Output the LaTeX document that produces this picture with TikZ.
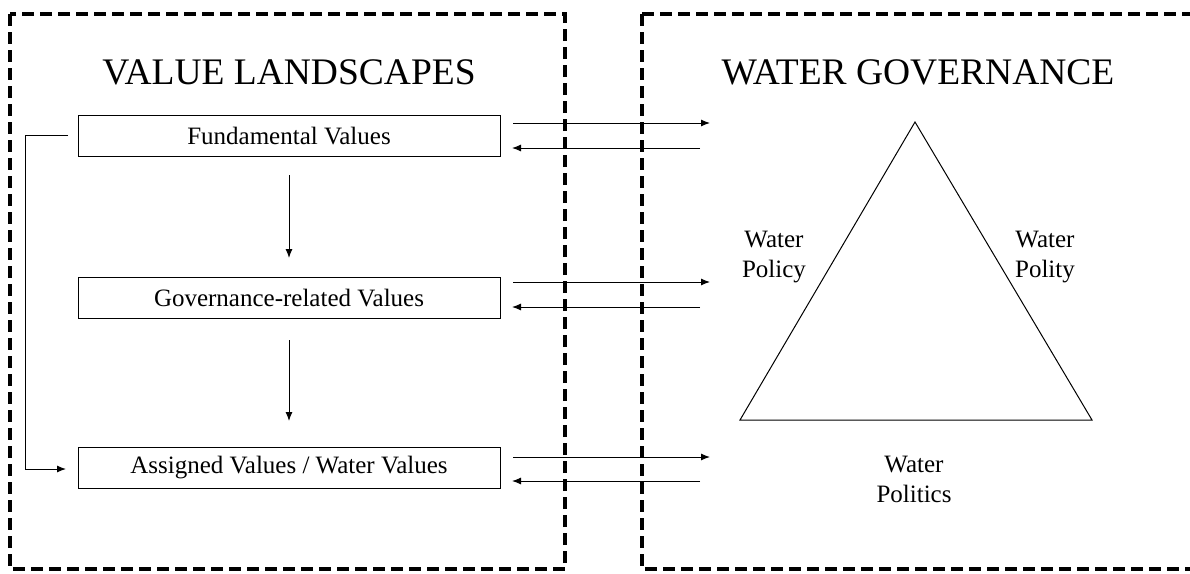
\documentclass[tikz,border=0pt]{standalone}
\usepackage{fontspec}
\setmainfont{Liberation Serif}
\usetikzlibrary{arrows.meta,calc}
\begin{document}
\begin{tikzpicture}[x=1pt,y=-1pt,
  frame/.style={line width=3.5pt,dash pattern=on 12pt off 6pt},
  vbox/.style={draw,line width=1pt,minimum width=422pt,minimum height=41pt,inner sep=0pt,font=\fontsize{25}{28}\selectfont},
  title/.style={font=\fontsize{37.5}{42}\selectfont},
  lbl/.style={align=center,font=\fontsize{25}{30}\selectfont},
  arr/.style={line width=1pt,-{Latex[length=9pt,width=7pt]}},
  tri/.style={line width=1pt}]
\useasboundingbox (0,0) rectangle (1190,573);
\draw[frame] (10,14) rectangle (565,569);
\draw[frame] (642,14) -- (1205,14) (642,14) -- (642,569) -- (1205,569);
\node[title] (t1) at (289,72) {VALUE LANDSCAPES};
\node[title] (t2) at (918,72) {WATER GOVERNANCE};
\node[vbox] (fv) at (289,136) {Fundamental Values};
\node[vbox] (gv) at (289,298) {Governance-related Values};
\node[vbox] (av) at (289,468) {Assigned Values / Water Values};
% vertical arrows
\coordinate (v1a) at (289,175); \coordinate (v1b) at (289,258);
\coordinate (v2a) at (289,340); \coordinate (v2b) at (289,421);
\draw[arr] (v1a) -- (v1b);
\draw[arr] (v2a) -- (v2b);
% bracket
\coordinate (b1) at (68,135); \coordinate (b2) at (25,135); \coordinate (b3) at (25,469); \coordinate (b4) at (66,469);
\draw[arr] (b1) -- (b2) -- (b3) -- (b4);
% horizontal arrows
\foreach \n/\y in {1/123,2/282,3/457}{
  \coordinate (o\n a) at (513,\y); \coordinate (o\n b) at (710,\y);
  \draw[arr] (o\n a) -- (o\n b);
}
\foreach \n/\y in {1/148,2/307,3/481}{
  \coordinate (i\n a) at (700,\y); \coordinate (i\n b) at (512,\y);
  \draw[arr] (i\n a) -- (i\n b);
}
% triangle
\coordinate (ta) at (915,122); \coordinate (tl) at (740,420); \coordinate (tr) at (1092,420);
\draw[tri,line join=miter] (ta) -- (tl) -- (tr) -- cycle;
\node[lbl] (wp1) at (774,257) {Water\\Policy};
\node[lbl] (wp2) at (1045,257) {Water\\Polity};
\node[lbl] (wp3) at (914,479) {Water\\Politics};
\end{tikzpicture}
\end{document}
